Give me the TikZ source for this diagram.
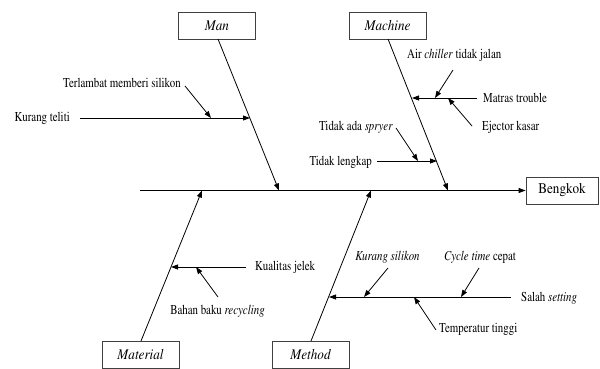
\documentclass[tikz,border=0pt]{standalone}
\usepackage[T1]{fontenc}
\renewcommand\rmdefault{ptm}
\newcommand\sq[1]{\scalebox{0.8}[1]{#1}}
\newcommand\bq[1]{\scalebox{0.89}[1]{#1}}
\usetikzlibrary{arrows.meta}
\begin{document}
\begin{tikzpicture}[x=1pt,y=-1pt,
  cat/.style={draw=black!75,line width=0.8pt,minimum width=77pt,minimum height=27pt,inner sep=0pt,font=\rmfamily\fontsize{14.8}{16}\selectfont},
  lab/.style={inner sep=0pt,font=\rmfamily\fontsize{13.6}{15}\selectfont},
  bone/.style={line width=0.8pt,-{Triangle[length=7pt,width=5pt]}},
  sub/.style={line width=0.8pt,-{Triangle[length=7pt,width=5pt]}}]
\useasboundingbox (0,0) rectangle (600,369);
% category boxes
\node[cat] (man) at (217,25.5) {\bq{\itshape Man}};
\node[cat] (machine) at (387.5,25.5) {\bq{\itshape Machine}};
\node[cat] (material) at (140.5,354.5) {\bq{\itshape Material}};
\node[cat] (method) at (310.5,354.5) {\bq{\itshape Method}};
\node[cat,minimum width=72pt] (bengkok) at (562,190.5) {\bq{Bengkok}};
% spine
\coordinate (s0) at (140,190.5);
\draw[bone] (s0) -- (bengkok.west);
% branch end points on spine
\coordinate (manS) at (279,190.5);
\coordinate (macS) at (448,190.5);
\coordinate (matS) at (202,190.5);
\coordinate (metS) at (371,190.5);
\coordinate (manT) at (218,39);
\coordinate (macT) at (388,39);
\coordinate (matB) at (141,341);
\coordinate (metB) at (311,341);
\draw[bone] (manT) -- (manS);
\draw[bone] (macT) -- (macS);
\draw[bone] (matB) -- (matS);
\draw[bone] (metB) -- (metS);
% Man causes
\node[lab,anchor=east] (kt) at (70,118) {\sq{Kurang teliti}};
\node[lab,anchor=east] (tms) at (181,83) {\sq{Terlambat memberi silikon}};
\coordinate (kt0) at (80,118);
\coordinate (kt1) at (250,118);
\coordinate (tms0) at (185,86);
\coordinate (tms1) at (211,118);
\draw[sub] (kt0) -- (kt1);
\draw[sub] (tms0) -- (tms1);
% Machine causes
\node[lab,anchor=west] (acj) at (407,55) {\sq{Air \textit{chiller} tidak jalan}};
\node[lab,anchor=west] (mt) at (483,98) {\sq{Matras trouble}};
\node[lab,anchor=west] (ek) at (482,127) {\sq{Ejector kasar}};
\node[lab,anchor=east] (tas) at (393,127) {\sq{Tidak ada \textit{spryer}}};
\node[lab,anchor=east] (tl) at (372,162) {\sq{Tidak lengkap}};
\coordinate (mt0) at (477,98);
\coordinate (mt1) at (412,98);
\coordinate (acj0) at (453,70);
\coordinate (acj1) at (435,98);
\coordinate (ek0) at (472,126);
\coordinate (ek1) at (448,98);
\coordinate (tl0) at (377,161);
\coordinate (tl1) at (437,161);
\coordinate (tas0) at (396,128);
\coordinate (tas1) at (418,161);
\draw[sub] (mt0) -- (mt1);
\draw[sub] (acj0) -- (acj1);
\draw[sub] (ek0) -- (ek1);
\draw[sub] (tl0) -- (tl1);
\draw[sub] (tas0) -- (tas1);
% Material causes
\node[lab,anchor=west] (kj) at (255,267) {\sq{Kualitas jelek}};
\node[lab] (bbr) at (217.5,311) {\sq{Bahan baku \textit{recycling}}};
\coordinate (kj0) at (246,267);
\coordinate (kj1) at (171,267);
\coordinate (bbr0) at (218,297);
\coordinate (bbr1) at (196,267);
\draw[sub] (kj0) -- (kj1);
\draw[sub] (bbr0) -- (bbr1);
% Method causes
\node[lab] (ks) at (387.5,257) {\sq{\textit{Kurang silikon}}};
\node[lab] (ctc) at (480,257) {\sq{\textit{Cycle time} cepat}};
\node[lab,anchor=west] (ss) at (521,298) {\sq{Salah \textit{setting}}};
\node[lab,anchor=west] (tt) at (439,329) {\sq{Temperatur tinggi}};
\coordinate (ss0) at (511,297);
\coordinate (ss1) at (329,297);
\coordinate (ks0) at (388,268);
\coordinate (ks1) at (364,297);
\coordinate (ctc0) at (479,268);
\coordinate (ctc1) at (461,297);
\coordinate (tt0) at (436,330);
\coordinate (tt1) at (414,297);
\draw[sub] (ss0) -- (ss1);
\draw[sub] (ks0) -- (ks1);
\draw[sub] (ctc0) -- (ctc1);
\draw[sub] (tt0) -- (tt1);
\end{tikzpicture}
\end{document}
